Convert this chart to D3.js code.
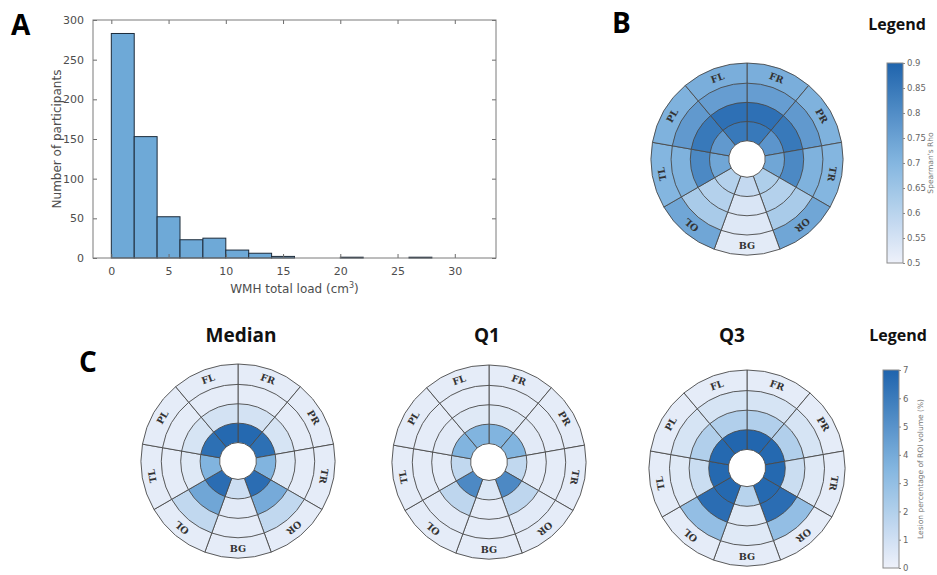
<!DOCTYPE html>
<html>
<head>
<meta charset="utf-8">
<script src="https://cdn.jsdelivr.net/npm/d3@7"></script>
<style>
  html, body { margin: 0; padding: 0; background: #ffffff; }
  svg { display: block; }
</style>
</head>
<body>
<svg id="fig" width="937" height="575"></svg>
<script>
// ---------------- DATA ----------------
// Panel A histogram (bin width 2 cm^3)
const histBinStarts = [0, 2, 4, 6, 8, 10, 12, 14, 16, 18, 20, 22, 24, 26, 28];
const histCounts    = [283, 153, 52, 23, 25, 10, 6, 2, 0, 0, 1, 0, 0, 1, 0];
const histXTicks = [0, 5, 10, 15, 20, 25, 30];
const histYTicks = [0, 50, 100, 150, 200, 250, 300];

// Bullseye regions, clockwise from 12 o'clock
const regions = ["FR", "PR", "TR", "OR", "BG", "OL", "TL", "PL", "FL"];
// values per ring (inner -> outer), each listing regions in the order above
const rhoValues = [
  [0.85, 0.78, 0.74, 0.62, 0.58, 0.61, 0.74, 0.77, 0.85],
  [0.87, 0.85, 0.81, 0.61, 0.54, 0.61, 0.81, 0.85, 0.87],
  [0.76, 0.77, 0.71, 0.63, 0.53, 0.63, 0.71, 0.77, 0.76],
  [0.72, 0.71, 0.70, 0.74, 0.52, 0.74, 0.70, 0.71, 0.72]
];
const medianValues = [
  [6.8, 6.5, 3.6, 6.6, 1.1, 6.6, 3.6, 6.5, 6.8],
  [0.9, 0.8, 0.5, 4.0, 0.4, 4.2, 0.5, 0.8, 0.9],
  [0.3, 0.3, 0.3, 1.5, 0.3, 1.5, 0.3, 0.3, 0.3],
  [0.3, 0.3, 0.3, 0.3, 0.3, 0.3, 0.3, 0.3, 0.3]
];
const q1Values = [
  [3.6, 3.6, 1.5, 5.4, 0.6, 5.4, 1.5, 3.6, 3.6],
  [0.5, 0.4, 0.3, 1.6, 0.3, 1.6, 0.3, 0.4, 0.5],
  [0.3, 0.3, 0.3, 0.4, 0.3, 0.4, 0.3, 0.3, 0.3],
  [0.3, 0.3, 0.3, 0.3, 0.3, 0.3, 0.3, 0.3, 0.3]
];
const q3Values = [
  [6.9, 6.8, 6.8, 6.8, 1.8, 6.8, 6.8, 6.8, 6.9],
  [2.0, 2.0, 1.2, 6.6, 0.5, 6.6, 1.2, 2.0, 2.0],
  [0.8, 0.8, 0.5, 3.0, 0.5, 3.0, 0.5, 0.8, 0.8],
  [0.3, 0.3, 0.3, 0.3, 0.3, 0.3, 0.3, 0.3, 0.3]
];
const rhoTicks = [0.5, 0.55, 0.6, 0.65, 0.7, 0.75, 0.8, 0.85, 0.9];
const lesionTicks = [0, 1, 2, 3, 4, 5, 6, 7];
const panelTitles = ["Median", "Q1", "Q3"];

// ---------------- SETUP ----------------
const svg = d3.select("#fig");
const boldFont = "'Open Sans', 'DejaVu Sans', sans-serif";
const axisFont = "'DejaVu Sans', sans-serif";
const serifFont = "'DejaVu Serif', 'Liberation Serif', serif";

const blueStops = ["#eef1fa", "#84b6e0", "#1f64ad"];
const rhoColor = d3.scaleLinear().domain([0.5, 0.7, 0.9]).range(blueStops).clamp(true);
const lesionColor = d3.scaleLinear().domain([0, 3.5, 7]).range(blueStops).clamp(true);

// ---------------- PANEL A ----------------
const A = { left: 93, right: 496, top: 20, bottom: 258 };
const x = d3.scaleLinear().domain([-1.6, 33.6]).range([A.left, A.right]);
const y = d3.scaleLinear().domain([0, 300]).range([A.bottom, A.top]);
const gA = svg.append("g");

gA.selectAll("rect.bar").data(histBinStarts.map((s, i) => ({ s, c: histCounts[i] })))
  .enter().append("rect").attr("class", "bar")
  .attr("x", d => x(d.s)).attr("width", d => x(d.s + 2) - x(d.s))
  .attr("y", d => y(d.c)).attr("height", d => y(0) - y(d.c))
  .attr("fill", "#6ea9d7").attr("stroke", "#1d2b3a").attr("stroke-width", 1);

function styleAxis(g, labels) {
  g.select(".domain").remove();
  g.selectAll(".tick line").attr("stroke", "#6b6b6b");
  g.selectAll(".tick text").attr("fill", labels ? "#4d4d4d" : "none")
    .attr("font-family", axisFont).attr("font-size", 11);
}
gA.append("g").attr("transform", `translate(0,${A.bottom})`)
  .call(d3.axisBottom(x).tickValues(histXTicks).tickSize(-4).tickPadding(9))
  .call(g => styleAxis(g, true));
gA.append("g").attr("transform", `translate(0,${A.top})`)
  .call(d3.axisTop(x).tickValues(histXTicks).tickSize(-4).tickFormat(""))
  .call(g => styleAxis(g, false));
gA.append("g").attr("transform", `translate(${A.left},0)`)
  .call(d3.axisLeft(y).tickValues(histYTicks).tickSize(-4).tickPadding(9))
  .call(g => styleAxis(g, true));
gA.append("g").attr("transform", `translate(${A.right},0)`)
  .call(d3.axisRight(y).tickValues(histYTicks).tickSize(-4).tickFormat(""))
  .call(g => styleAxis(g, false));
gA.append("rect").attr("x", A.left).attr("y", A.top)
  .attr("width", A.right - A.left).attr("height", A.bottom - A.top)
  .attr("fill", "none").attr("stroke", "#7a7a7a").attr("stroke-width", 1);

const xl = gA.append("text").attr("x", (A.left + A.right) / 2).attr("y", 293)
  .attr("text-anchor", "middle").attr("font-family", axisFont).attr("font-size", 12)
  .attr("fill", "#4d4d4d").text("WMH total load (cm");
xl.append("tspan").attr("dy", -5).attr("font-size", 8).text("3");
xl.append("tspan").attr("dy", 5).text(")");
gA.append("text").attr("transform", `translate(61,${(A.top + A.bottom) / 2}) rotate(-90)`)
  .attr("text-anchor", "middle").attr("font-family", axisFont).attr("font-size", 12)
  .attr("fill", "#4d4d4d").text("Number of participants");

// ---------------- BULLSEYES ----------------
const sectorAngle = 2 * Math.PI / regions.length;
function bullseye(cx, cy, R, values, color) {
  const g = svg.append("g").attr("transform", `translate(${cx},${cy})`);
  const rScale = d3.scaleLinear().domain([0, 5]).range([0, R]); // ring boundaries at 1..5
  const arc = d3.arc();
  const cells = [];
  values.forEach((ring, ri) => ring.forEach((v, si) => cells.push({ ri, si, v })));
  g.selectAll("path.cell").data(cells).enter().append("path").attr("class", "cell")
    .attr("d", d => arc({
      innerRadius: rScale(d.ri + 0.95), outerRadius: rScale(d.ri + 2),
      startAngle: d.si * sectorAngle, endAngle: (d.si + 1) * sectorAngle
    }))
    .attr("fill", d => color(d.v)).attr("stroke", "#4a4a4a").attr("stroke-width", 0.9);
  g.selectAll("text.lab").data(regions).enter().append("text").attr("class", "lab")
    .attr("transform", (d, i) => {
      const a = (i + 0.5) * sectorAngle;
      const r = rScale(4.5);
      const deg = a * 180 / Math.PI;
      const rot = Math.abs(deg - 180) < 1 ? 0 : deg;
      return `translate(${r * Math.sin(a)},${-r * Math.cos(a)}) rotate(${rot})`;
    })
    .attr("text-anchor", "middle").attr("dominant-baseline", "central")
    .attr("font-family", serifFont).attr("font-size", 9.5).attr("font-weight", "bold")
    .attr("fill", "#333").text(d => d);
}
bullseye(747, 159, 96, rhoValues, rhoColor);
bullseye(238, 461, 97, medianValues, lesionColor);
bullseye(489, 462, 97, q1Values, lesionColor);
bullseye(747, 468, 98, q3Values, lesionColor);

// ---------------- COLORBARS ----------------
const defs = svg.append("defs");
function colorbar(id, x0, y0, w, h, domain, color, ticks, label, labelX, fmt) {
  const grad = defs.append("linearGradient").attr("id", id)
    .attr("x1", 0).attr("y1", 1).attr("x2", 0).attr("y2", 0);
  d3.range(0, 1.0001, 0.1).forEach(t => {
    grad.append("stop").attr("offset", t)
      .attr("stop-color", color(domain[0] + t * (domain[1] - domain[0])));
  });
  svg.append("rect").attr("x", x0).attr("y", y0).attr("width", w).attr("height", h)
    .attr("fill", `url(#${id})`).attr("stroke", "#8a8a8a").attr("stroke-width", 1);
  const s = d3.scaleLinear().domain(domain).range([y0 + h, y0]);
  const ax = svg.append("g").attr("transform", `translate(${x0 + w},0)`)
    .call(d3.axisRight(s).tickValues(ticks).tickSize(2).tickPadding(2).tickFormat(fmt));
  ax.select(".domain").remove();
  ax.selectAll(".tick line").attr("stroke", "#888");
  ax.selectAll(".tick text").attr("fill", "#666").attr("font-family", axisFont).attr("font-size", 8.5);
  svg.append("text").attr("transform", `translate(${labelX},${y0 + h / 2}) rotate(-90)`)
    .attr("text-anchor", "middle").attr("font-family", axisFont).attr("font-size", 7.5)
    .attr("fill", "#777").text(label);
}
colorbar("gradRho", 887, 63, 16, 200, [0.5, 0.9], rhoColor, rhoTicks, "Spearman's Rho", 933, d3.format(""));
colorbar("gradLes", 883, 370, 16, 198, [0, 7], lesionColor, lesionTicks, "Lesion percentage of ROI volume (%)", 923, d3.format("d"));

// ---------------- TEXT ----------------
const letters = [{ t: "A", x: 11, y: 35 }, { t: "B", x: 612, y: 33 }, { t: "C", x: 79, y: 372 }];
svg.selectAll("text.letter").data(letters).enter().append("text").attr("class", "letter")
  .attr("x", d => d.x).attr("y", d => d.y).attr("font-family", boldFont)
  .attr("font-weight", "bold").attr("font-size", 28).attr("fill", "#000").text(d => d.t);

const legends = [{ x: 897, y: 30 }, { x: 898, y: 341 }];
svg.selectAll("text.legend").data(legends).enter().append("text").attr("class", "legend")
  .attr("x", d => d.x).attr("y", d => d.y).attr("text-anchor", "middle")
  .attr("font-family", boldFont).attr("font-weight", "bold").attr("font-size", 16)
  .attr("fill", "#111").text("Legend");

const titlePos = [{ x: 241, y: 342 }, { x: 487, y: 342 }, { x: 732, y: 342 }];
svg.selectAll("text.ptitle").data(panelTitles).enter().append("text").attr("class", "ptitle")
  .attr("x", (d, i) => titlePos[i].x).attr("y", (d, i) => titlePos[i].y)
  .attr("text-anchor", "middle").attr("font-family", boldFont).attr("font-weight", "bold")
  .attr("font-size", 19).attr("fill", "#111").text(d => d);
</script>
</body>
</html>
